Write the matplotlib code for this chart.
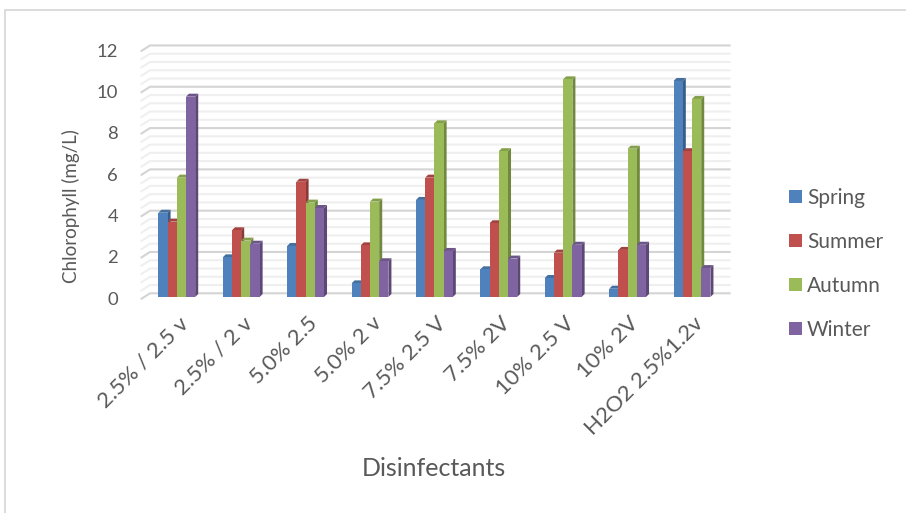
import matplotlib
matplotlib.use("Agg")
import matplotlib.pyplot as plt
from matplotlib.patches import Polygon, Rectangle
import numpy as np

plt.rcParams["font.family"] = ["Lato", "DejaVu Sans"]

# -- data ---------------------------------------------------------------------
CATEGORIES = ["2.5% / 2.5 v", "2.5% / 2 v", "5.0% 2.5", "5.0% 2 v", "7.5% 2.5 V",
              "7.5% 2V", "10% 2.5 V", "10% 2V", "H2O2 2.5%1.2v"]
SEASONS = ["Spring", "Summer", "Autumn", "Winter"]
SPRING = [4.08, 1.92, 2.47, 0.66, 4.70, 1.34, 0.92, 0.40, 10.46]
SUMMER = [3.65, 3.23, 5.58, 2.50, 5.78, 3.57, 2.15, 2.28, 7.06]
AUTUMN = [5.78, 2.73, 4.57, 4.62, 8.41, 7.06, 10.54, 7.18, 9.59]
WINTER = [9.70, 2.58, 4.31, 1.73, 2.23, 1.86, 2.53, 2.53, 1.40]
Y_TICKS = [0, 2, 4, 6, 8, 10, 12]

# -- style --------------------------------------------------------------------
FRONT = ["#4F81BD", "#C0504D", "#9BBB59", "#8064A2"]
SIDE = ["#385D8A", "#8C3836", "#71893F", "#5C4776"]
TOP = ["#44709F", "#A3433F", "#84A04A", "#6C5589"]
TEXT = "#595959"

BAR_W = 0.143          # width of one column, category units
DX, DY = 0.047, 0.145  # column depth offsets (x in categories, y in mg/L)
WALL_DX, WALL_DY = 0.145, 0.29  # side wall depth
WALL_LEFT, WALL_RIGHT = -0.416, 8.60
BACK_SHIFT = 0.18

fig = plt.figure(figsize=(9.06, 5.13), dpi=100)
ax = fig.add_axes([0.1489, 0.3808, 0.6682, 0.5475])
ax.set_xlim(-0.65, 8.75)
ax.set_ylim(-1.0, 12.6)
ax.axis("off")

# back wall + side wall gridlines
minor = np.arange(0, 12.01, 0.4)
for v in minor:
    is_major = abs(v / 2 - round(v / 2)) < 1e-6
    col = "#D4D4D4" if is_major else "#EFEFEF"
    vb = v + BACK_SHIFT
    ax.plot([WALL_LEFT - WALL_DX, WALL_LEFT, WALL_RIGHT],
            [vb - WALL_DY, vb, vb], color=col, lw=1.5, zorder=0,
            solid_capstyle="butt")

x = np.arange(len(CATEGORIES))
series = [SPRING, SUMMER, AUTUMN, WINTER]
handles = []
z = 2
for i in range(len(CATEGORIES)):
    for k, vals in enumerate(series):
        h = vals[i]
        left = x[i] + (k - 2) * BAR_W
        right = left + BAR_W
        side = Polygon([(right, 0), (right + DX, DY), (right + DX, h + DY), (right, h)],
                       closed=True, facecolor=SIDE[k], edgecolor="none", zorder=z)
        top = Polygon([(left, h), (right, h), (right + DX, h + DY), (left + DX, h + DY)],
                      closed=True, facecolor=TOP[k], edgecolor="none", zorder=z)
        ax.add_patch(side)
        ax.add_patch(top)
        bc = ax.bar(left, h, width=BAR_W, align="edge", color=FRONT[k],
                    edgecolor="none", zorder=z + 0.5,
                    label=SEASONS[k] if i == 0 else None)
        if i == 0:
            handles.append(bc)
        z += 1

# y tick labels
for v in Y_TICKS:
    ax.text(-0.913, v - 0.13, str(v), ha="right", va="center",
            fontsize=13.3, color=TEXT, clip_on=False)

# category labels
for i, lab in enumerate(CATEGORIES):
    ax.text(x[i] + 0.02, -0.78, lab, rotation=45, ha="right", va="top",
            rotation_mode="anchor", fontsize=16, color=TEXT, clip_on=False)

fig.text(71 / 906, 1 - 206 / 513, "Chlorophyll (mg/L)", rotation=90,
         ha="center", va="center", fontsize=13.5, color=TEXT)
fig.text(434 / 906, 1 - 468 / 513, "Disinfectants", ha="center", va="center",
         fontsize=18, color=TEXT)

fig.legend(handles=handles, labels=SEASONS, loc="center left",
           bbox_to_anchor=(789 / 906, 1 - 264 / 513), frameon=False,
           fontsize=15, labelcolor=TEXT, handlelength=0.62, handleheight=0.62,
           handletextpad=0.25, labelspacing=1.15, borderpad=0, borderaxespad=0)

# chart area border
fig.patches.append(Rectangle((4.5 / 906, -0.1), 1.2, 1 - 9.5 / 513 + 0.1,
                             transform=fig.transFigure, fill=False,
                             edgecolor="#D9D9D9", lw=1.3))

fig.savefig("out.png", dpi=100, facecolor="white")
